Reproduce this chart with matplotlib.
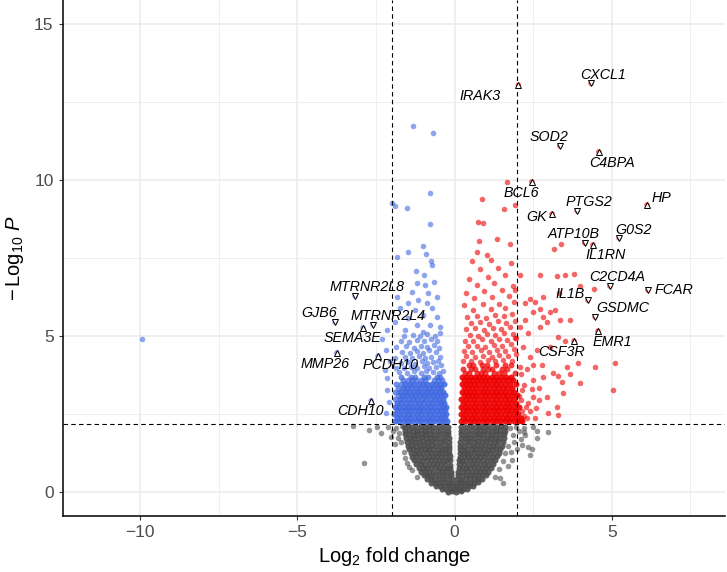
import numpy as np
import matplotlib
matplotlib.use('Agg')
import matplotlib.pyplot as plt

plt.rcParams['font.family'] = 'Liberation Sans'
plt.rcParams['mathtext.fontset'] = 'custom'
plt.rcParams['mathtext.rm'] = 'Liberation Sans'
plt.rcParams['mathtext.it'] = 'Liberation Sans:italic'

########################## data ##########################
# not significant (grey cloud), (log2FC, -log10 P)
gray_core = [
    (-0.2,0.02),(-0.07,0.03),(0.06,0.02),(0.19,0.04),
    (-0.4,0.1),(-0.27,0.11),(-0.14,0.09),(0.0,0.12),(0.13,0.1),(0.27,0.11),(0.41,0.1),
    (-0.58,0.2),(-0.45,0.21),(-0.32,0.19),(-0.19,0.22),(-0.06,0.2),(0.07,0.21),(0.2,0.19),(0.33,0.22),(0.46,0.2),(0.59,0.21),
    (-0.74,0.3),(-0.61,0.31),(-0.48,0.3),(-0.35,0.32),(-0.22,0.3),(-0.09,0.31),(0.09,0.3),(0.22,0.32),(0.35,0.3),(0.48,0.31),(0.61,0.3),(0.75,0.32),
    (-0.88,0.42),(-0.75,0.43),(-0.62,0.41),(-0.49,0.42),(-0.36,0.44),(-0.22,0.42),(-0.09,0.43),(0.09,0.42),(0.22,0.41),(0.36,0.43),(0.49,0.42),(0.62,0.44),(0.75,0.42),(0.88,0.43),
    (-0.98,0.54),(-0.86,0.55),(-0.74,0.53),(-0.62,0.54),(-0.49,0.56),(-0.36,0.54),(-0.23,0.55),(-0.11,0.54),(0.11,0.54),(0.23,0.53),(0.36,0.55),(0.49,0.54),(0.62,0.56),(0.74,0.54),(0.87,0.55),(0.99,0.54),
    (-1.06,0.66),(-0.93,0.67),(-0.8,0.65),(-0.67,0.66),(-0.54,0.68),(-0.41,0.66),(-0.27,0.67),(-0.12,0.66),(0.12,0.66),(0.27,0.65),(0.41,0.67),(0.54,0.66),(0.67,0.68),(0.8,0.66),(0.93,0.67),(1.07,0.66),
    (-1.14,0.78),(-1.01,0.79),(-0.88,0.77),(-0.75,0.78),(-0.62,0.8),(-0.49,0.78),(-0.37,0.79),(-0.25,0.78),(-0.13,0.77),(0.13,0.78),(0.25,0.79),(0.37,0.77),(0.49,0.78),(0.62,0.8),(0.75,0.78),(0.88,0.79),(1.01,0.77),(1.15,0.78),
    (-1.21,0.9),(-1.08,0.91),(-0.95,0.89),(-0.82,0.9),(-0.69,0.92),(-0.56,0.9),(-0.43,0.91),(-0.29,0.9),(-0.14,0.89),(0.14,0.9),(0.29,0.91),(0.43,0.89),(0.56,0.9),(0.69,0.92),(0.82,0.9),(0.95,0.91),(1.08,0.89),(1.22,0.9),
    (-1.28,1.02),(-1.15,1.03),(-1.02,1.01),(-0.89,1.02),(-0.76,1.04),(-0.63,1.02),(-0.5,1.03),(-0.37,1.01),(-0.25,1.02),(-0.15,1.03),(0.15,1.02),(0.25,1.01),(0.37,1.03),(0.5,1.02),(0.63,1.04),(0.76,1.02),(0.89,1.03),(1.02,1.01),(1.15,1.02),(1.29,1.03),
    (-1.34,1.14),(-1.21,1.15),(-1.08,1.13),(-0.95,1.14),(-0.82,1.16),(-0.69,1.14),(-0.56,1.15),(-0.43,1.13),(-0.3,1.14),(-0.16,1.15),(0.16,1.14),(0.3,1.13),(0.43,1.15),(0.56,1.14),(0.69,1.16),(0.82,1.14),(0.95,1.15),(1.08,1.13),(1.21,1.14),(1.35,1.15),
    (-1.4,1.26),(-1.27,1.27),(-1.14,1.25),(-1.01,1.26),(-0.88,1.28),(-0.75,1.26),(-0.62,1.27),(-0.5,1.25),(-0.39,1.26),(-0.28,1.27),(-0.17,1.26),(0.17,1.26),(0.28,1.25),(0.39,1.27),(0.5,1.26),(0.62,1.28),(0.75,1.26),(0.88,1.27),(1.01,1.25),(1.14,1.26),(1.27,1.27),(1.41,1.26),
    (-1.45,1.38),(-1.32,1.39),(-1.19,1.37),(-1.06,1.38),(-0.93,1.4),(-0.8,1.38),(-0.67,1.39),(-0.54,1.37),(-0.41,1.38),(-0.29,1.39),(-0.17,1.38),(0.17,1.38),(0.29,1.37),(0.41,1.39),(0.54,1.38),(0.67,1.4),(0.8,1.38),(0.93,1.39),(1.06,1.37),(1.19,1.38),(1.32,1.39),(1.46,1.38),
    (-1.49,1.5),(-1.36,1.51),(-1.23,1.49),(-1.1,1.5),(-0.97,1.52),(-0.84,1.5),(-0.71,1.51),(-0.58,1.49),(-0.45,1.5),(-0.31,1.51),(-0.18,1.5),(0.18,1.5),(0.31,1.49),(0.45,1.51),(0.58,1.5),(0.71,1.52),(0.84,1.5),(0.97,1.51),(1.1,1.49),(1.23,1.5),(1.36,1.51),(1.5,1.5),
    (-1.52,1.62),(-1.39,1.63),(-1.26,1.61),(-1.13,1.62),(-1.0,1.64),(-0.87,1.62),(-0.74,1.63),(-0.61,1.61),(-0.47,1.62),(-0.33,1.63),(-0.18,1.62),(0.18,1.62),(0.33,1.61),(0.47,1.63),(0.61,1.62),(0.74,1.64),(0.87,1.62),(1.0,1.63),(1.13,1.61),(1.26,1.62),(1.39,1.63),(1.53,1.62),
    (-1.55,1.74),(-1.42,1.75),(-1.29,1.73),(-1.16,1.74),(-1.03,1.76),(-0.9,1.74),(-0.77,1.75),(-0.63,1.73),(-0.49,1.74),(-0.34,1.75),(-0.19,1.74),(0.19,1.74),(0.34,1.73),(0.49,1.75),(0.63,1.74),(0.77,1.76),(0.9,1.74),(1.03,1.75),(1.16,1.73),(1.29,1.74),(1.42,1.75),(1.56,1.74),
    (-1.57,1.86),(-1.44,1.87),(-1.31,1.85),(-1.18,1.86),(-1.05,1.88),(-0.92,1.86),(-0.79,1.87),(-0.65,1.85),(-0.5,1.86),(-0.35,1.87),(-0.2,1.86),(0.2,1.86),(0.35,1.85),(0.5,1.87),(0.65,1.86),(0.79,1.88),(0.92,1.86),(1.05,1.87),(1.18,1.85),(1.31,1.86),(1.44,1.87),(1.58,1.86),
    (-1.59,1.98),(-1.46,1.99),(-1.33,1.97),(-1.2,1.98),(-1.07,2.0),(-0.94,1.98),(-0.81,1.99),(-0.67,1.97),(-0.52,1.98),(-0.37,1.99),(-0.21,1.98),(0.21,1.98),(0.37,1.97),(0.52,1.99),(0.67,1.98),(0.81,2.0),(0.94,1.98),(1.07,1.99),(1.2,1.97),(1.33,1.98),(1.46,1.99),(1.6,1.98),
    (-1.6,2.1),(-1.47,2.11),(-1.34,2.09),(-1.21,2.1),(-1.08,2.12),(-0.95,2.1),(-0.82,2.11),(-0.68,2.09),(-0.53,2.1),(-0.38,2.11),(-0.22,2.1),(0.22,2.1),(0.38,2.09),(0.53,2.11),(0.68,2.1),(0.82,2.12),(0.95,2.1),(1.08,2.11),(1.21,2.09),(1.34,2.1),(1.47,2.11),(1.62,2.1),
]
gray_edge = [
    (-2.87,0.93),(-2.33,1.91),(-3.24,2.12),(-2.71,2.0),(-2.45,2.08),(-2.1,2.1),(-1.95,1.95),(-1.85,2.05),
    (-1.8,1.75),(-1.75,1.9),(-1.7,1.6),(-1.62,1.3),(-1.52,0.95),(-1.35,0.7),(-1.2,0.5),(-1.68,2.14),
    (-1.9,1.55),(-2.02,1.78),(-1.58,1.1),(-1.44,0.82),
    (1.75,2.05),(1.85,1.85),(1.7,1.5),(1.62,1.25),(1.55,1.0),(1.42,0.75),(1.28,0.5),(1.95,2.1),
    (2.05,1.95),(2.2,2.05),(1.9,1.6),(2.1,1.7),(2.25,1.85),(2.5,2.1),(2.62,1.98),(1.8,1.3),
    (2.0,1.4),(1.7,0.85),(1.45,0.45),(1.55,0.29),(2.97,1.94),(2.41,1.2),(2.34,1.46),(2.2,1.94),
    (2.61,1.73),(2.13,1.51),(2.47,1.39),(1.82,1.05),
]

# significant, down (blue)
blue_core = [
    (-1.9,2.27),(-1.76,2.27),(-1.62,2.27),(-1.48,2.27),(-1.34,2.27),(-1.2,2.27),(-1.06,2.27),(-0.92,2.27),(-0.78,2.27),(-0.64,2.27),(-0.5,2.27),(-0.37,2.27),(-0.25,2.27),
    (-1.83,2.39),(-1.69,2.39),(-1.55,2.39),(-1.41,2.39),(-1.27,2.39),(-1.13,2.39),(-0.99,2.39),(-0.85,2.39),(-0.71,2.39),(-0.57,2.39),(-0.44,2.39),(-0.31,2.39),
    (-1.92,2.51),(-1.76,2.51),(-1.62,2.51),(-1.48,2.51),(-1.34,2.51),(-1.2,2.51),(-1.06,2.51),(-0.92,2.51),(-0.78,2.51),(-0.64,2.51),(-0.5,2.51),(-0.37,2.51),(-0.26,2.51),
    (-1.84,2.63),(-1.69,2.63),(-1.55,2.63),(-1.41,2.63),(-1.27,2.63),(-1.13,2.63),(-0.99,2.63),(-0.85,2.63),(-0.71,2.63),(-0.57,2.63),(-0.44,2.63),(-0.31,2.63),
    (-1.9,2.75),(-1.76,2.75),(-1.62,2.75),(-1.48,2.75),(-1.34,2.75),(-1.2,2.75),(-1.06,2.75),(-0.92,2.75),(-0.78,2.75),(-0.64,2.75),(-0.5,2.75),(-0.38,2.75),(-0.27,2.75),
    (-1.83,2.87),(-1.69,2.87),(-1.55,2.87),(-1.41,2.87),(-1.27,2.87),(-1.13,2.87),(-0.99,2.87),(-0.85,2.87),(-0.71,2.87),(-0.57,2.87),(-0.44,2.87),(-0.32,2.87),
    (-1.74,2.99),(-1.6,2.99),(-1.46,2.99),(-1.32,2.99),(-1.18,2.99),(-1.04,2.99),(-0.9,2.99),(-0.76,2.99),(-0.62,2.99),(-0.49,2.99),(-0.37,2.99),
    (-1.67,3.11),(-1.53,3.11),(-1.39,3.11),(-1.25,3.11),(-1.11,3.11),(-0.97,3.11),(-0.83,3.11),(-0.69,3.11),(-0.56,3.11),(-0.43,3.11),(-0.31,3.11),
    (-1.72,3.23),(-1.58,3.23),(-1.44,3.23),(-1.3,3.23),(-1.16,3.23),(-1.02,3.23),(-0.88,3.23),(-0.74,3.23),(-0.61,3.23),(-0.48,3.23),(-0.36,3.23),
    (-1.65,3.35),(-1.51,3.35),(-1.37,3.35),(-1.23,3.35),(-1.09,3.35),(-0.95,3.35),(-0.81,3.35),(-0.67,3.35),(-0.54,3.35),(-0.42,3.35),
    (-1.56,3.47),(-1.42,3.47),(-1.28,3.47),(-1.14,3.47),(-1.0,3.47),(-0.86,3.47),(-0.72,3.47),(-0.59,3.47),(-0.46,3.47),(-0.34,3.47),
]
blue_core_top = [
    (-1.63,3.59),(-1.49,3.59),(-1.21,3.59),(-1.07,3.59),(-0.93,3.59),(-0.65,3.59),(-0.52,3.59),(-0.4,3.59),
    (-1.7,3.71),(-1.4,3.71),(-1.26,3.71),(-0.98,3.71),(-0.84,3.71),(-0.57,3.71),(-0.45,3.71),
    (-1.88,2.99),(-1.81,3.11),(-1.9,3.23),(-1.8,3.35),(-1.86,3.47),(-1.71,3.47),(-1.35,3.59),
]
blue_upper = [
    (-1.75,3.85),(-1.5,3.83),(-1.3,3.88),(-1.08,3.84),(-0.9,3.9),(-0.7,3.86),(-0.5,3.82),(-0.38,3.9),
    (-1.86,4.0),(-1.62,3.98),(-1.4,4.02),(-1.18,3.99),(-0.98,4.05),(-0.8,4.0),(-0.6,4.02),(-0.44,4.08),
    (-1.7,4.15),(-1.48,4.18),(-1.25,4.12),(-1.05,4.2),(-0.86,4.15),(-0.67,4.19),(-0.52,4.22),
    (-1.9,4.3),(-1.58,4.33),(-1.35,4.3),(-1.12,4.36),(-0.93,4.31),(-0.74,4.35),(-0.46,4.33),
    (-1.67,4.5),(-1.43,4.46),(-1.2,4.52),(-1.0,4.48),(-0.8,4.55),(-0.6,4.5),
    (-1.85,4.65),(-1.55,4.68),(-1.28,4.64),(-1.08,4.7),(-0.88,4.66),(-0.66,4.72),(-0.48,4.62),
    (-1.7,4.85),(-1.45,4.82),(-1.2,4.88),(-0.98,4.84),(-0.75,4.9),(-0.56,4.86),
    (-1.6,5.02),(-1.32,5.05),(-1.1,5.0),(-0.86,5.08),(-0.63,5.02),(-0.45,5.1),
    (-1.57,5.2),(-0.99,5.15),(-1.2,5.36),(-0.77,5.36),(-0.46,5.31),(-1.89,5.47),(-1.47,5.58),
    (-0.99,5.68),(-0.57,5.63),(-1.73,5.9),(-1.26,5.84),(-0.73,5.9),(-1.47,6.06),(-0.88,6.06),
    (-1.15,6.16),(-1.84,6.27),(-0.57,6.27),(-0.83,6.38),(-1.36,6.43),(-0.94,6.63),(-1.2,6.7),
    (-0.65,6.75),(-0.97,6.96),(-1.22,7.1),(-0.73,7.29),(-0.75,7.4),(-1.82,7.53),(-0.92,7.64),
    (-1.47,7.69),(-1.01,7.9),(-0.77,8.6),(-1.52,9.12),(-1.9,9.18),(-1.98,9.26),(-0.79,9.58),
    (-0.69,11.53),(-1.31,11.74),(-9.95,4.9),
    (-2.16,5.2),(-2.31,4.9),(-2.18,4.56),(-2.21,3.92),(-2.14,3.65),(-2.16,3.28),(-2.18,2.54),
    (-2.08,2.9),(-2.05,4.2),
]

# significant, up (red)
red_core = [
    (0.2,2.27),(0.34,2.27),(0.48,2.27),(0.62,2.27),(0.76,2.27),(0.9,2.27),(1.04,2.27),(1.18,2.27),(1.32,2.27),(1.46,2.27),(1.6,2.27),(1.74,2.27),(1.88,2.27),(2.02,2.27),(2.16,2.27),
    (0.27,2.39),(0.41,2.39),(0.55,2.39),(0.69,2.39),(0.83,2.39),(0.97,2.39),(1.11,2.39),(1.25,2.39),(1.39,2.39),(1.53,2.39),(1.67,2.39),(1.81,2.39),(1.95,2.39),(2.1,2.39),
    (0.21,2.51),(0.34,2.51),(0.48,2.51),(0.62,2.51),(0.76,2.51),(0.9,2.51),(1.04,2.51),(1.18,2.51),(1.32,2.51),(1.46,2.51),(1.6,2.51),(1.74,2.51),(1.88,2.51),(2.03,2.51),
    (0.27,2.63),(0.41,2.63),(0.55,2.63),(0.69,2.63),(0.83,2.63),(0.97,2.63),(1.11,2.63),(1.25,2.63),(1.39,2.63),(1.53,2.63),(1.67,2.63),(1.81,2.63),(1.96,2.63),
    (0.22,2.75),(0.35,2.75),(0.48,2.75),(0.62,2.75),(0.76,2.75),(0.9,2.75),(1.04,2.75),(1.18,2.75),(1.32,2.75),(1.46,2.75),(1.6,2.75),(1.74,2.75),(1.88,2.75),(2.05,2.75),
    (0.28,2.87),(0.41,2.87),(0.55,2.87),(0.69,2.87),(0.83,2.87),(0.97,2.87),(1.11,2.87),(1.25,2.87),(1.39,2.87),(1.53,2.87),(1.67,2.87),(1.81,2.87),(1.95,2.87),
    (0.22,2.99),(0.35,2.99),(0.48,2.99),(0.62,2.99),(0.76,2.99),(0.9,2.99),(1.04,2.99),(1.18,2.99),(1.32,2.99),(1.46,2.99),(1.6,2.99),(1.74,2.99),(1.9,2.99),
    (0.29,3.11),(0.42,3.11),(0.55,3.11),(0.69,3.11),(0.83,3.11),(0.97,3.11),(1.11,3.11),(1.25,3.11),(1.39,3.11),(1.53,3.11),(1.67,3.11),(1.82,3.11),(1.98,3.11),
    (0.23,3.23),(0.36,3.23),(0.49,3.23),(0.62,3.23),(0.76,3.23),(0.9,3.23),(1.04,3.23),(1.18,3.23),(1.32,3.23),(1.46,3.23),(1.6,3.23),(1.75,3.23),(1.9,3.23),
    (0.3,3.35),(0.43,3.35),(0.56,3.35),(0.69,3.35),(0.83,3.35),(0.97,3.35),(1.11,3.35),(1.25,3.35),(1.39,3.35),(1.53,3.35),(1.68,3.35),(1.84,3.35),
    (0.24,3.47),(0.37,3.47),(0.5,3.47),(0.63,3.47),(0.76,3.47),(0.9,3.47),(1.04,3.47),(1.18,3.47),(1.32,3.47),(1.46,3.47),(1.61,3.47),(1.77,3.47),(1.95,3.47),
    (0.31,3.59),(0.44,3.59),(0.57,3.59),(0.7,3.59),(0.83,3.59),(0.97,3.59),(1.11,3.59),(1.25,3.59),(1.39,3.59),(1.54,3.59),(1.7,3.59),(1.86,3.59),
    (0.25,3.71),(0.38,3.71),(0.51,3.71),(0.64,3.71),(0.77,3.71),(0.9,3.71),(1.04,3.71),(1.18,3.71),(1.32,3.71),(1.47,3.71),(1.63,3.71),(1.8,3.71),
]
red_core_top = [
    (0.32,3.83),(0.45,3.83),(0.71,3.83),(0.84,3.83),(0.98,3.83),(1.26,3.83),(1.4,3.83),(1.56,3.83),(1.92,3.83),
    (0.26,3.95),(0.52,3.95),(0.65,3.95),(0.92,3.95),(1.06,3.95),(1.2,3.95),(1.5,3.95),(1.66,3.95),
    (0.46,4.07),(0.6,4.07),(0.88,4.07),(1.02,4.07),(1.31,4.07),(1.6,4.07),(1.78,4.07),
]
red_upper = [
    (0.28,4.2),(0.52,4.22),(0.8,4.18),(1.05,4.25),(1.3,4.2),(1.55,4.24),(1.82,4.2),
    (0.38,4.36),(0.65,4.34),(0.92,4.38),(1.18,4.35),(1.42,4.4),(1.7,4.36),(1.95,4.42),
    (0.3,4.52),(0.56,4.5),(0.84,4.55),(1.1,4.5),(1.36,4.56),(1.62,4.52),(1.88,4.58),
    (0.42,4.68),(0.7,4.7),(0.98,4.66),(1.25,4.72),(1.5,4.68),(1.78,4.74),
    (0.33,4.86),(0.6,4.84),(0.88,4.9),(1.15,4.86),(1.42,4.92),(1.68,4.88),(1.95,4.95),
    (0.48,5.04),(0.76,5.02),(1.04,5.08),(1.3,5.04),(1.58,5.1),(1.85,5.06),
    (0.36,5.22),(0.66,5.26),(0.95,5.2),(1.22,5.28),(1.48,5.24),(1.75,5.3),
    (0.52,5.42),(0.82,5.45),(1.1,5.4),(1.38,5.48),(1.65,5.44),(1.92,5.5),
    (0.4,5.62),(0.7,5.66),(1.0,5.6),(1.28,5.68),(1.56,5.64),(1.82,5.7),
    (0.58,5.85),(1.15,5.88),(1.62,5.9),(0.3,6.0),(0.9,6.05),(1.4,6.02),(1.9,6.1),
    (0.62,6.22),(1.2,6.25),(1.72,6.3),(0.35,6.4),(0.95,6.45),(1.5,6.5),(0.7,6.65),
    (1.25,6.7),(1.85,6.62),(0.45,6.85),(1.05,6.9),(1.6,6.95),(0.8,7.15),(1.38,7.2),
    (0.55,7.4),(1.15,7.45),(1.78,7.35),(1.02,7.6),(0.72,7.71),(1.75,7.97),(0.77,8.05),
    (1.35,8.11),(0.76,8.65),(0.9,8.64),(1.56,9.09),(1.92,9.21),(0.88,9.39),(1.66,9.94),
]
red_right = [
    (2.72,6.97),(3.25,6.93),(3.51,6.97),(3.8,7.0),(3.99,6.61),(4.42,6.51),(3.33,6.38),
    (2.82,6.27),(2.08,6.97),(1.92,6.49),(2.4,6.19),(2.56,6.11),(2.24,6.06),(2.51,5.79),
    (2.72,5.87),(3.04,5.79),(3.2,5.84),(3.67,5.52),(3.35,5.52),(2.82,5.63),(2.93,5.47),
    (2.24,5.52),(2.72,5.31),(2.08,5.31),(2.35,5.1),(1.92,4.94),(3.3,4.97),(3.51,4.86),
    (3.04,4.67),(2.61,4.56),(2.4,4.35),(2.77,4.08),(2.51,4.08),(3.57,4.03),(3.94,4.14),
    (4.47,4.01),(5.1,4.14),(3.14,3.81),(2.82,3.71),(3.3,3.73),(3.67,3.79),(3.41,3.55),
    (3.99,3.49),(3.46,3.17),(2.93,3.07),(2.51,3.07),(2.35,2.85),(3.25,2.75),(2.98,2.53),
    (3.3,2.48),(2.56,2.37),(2.3,2.37),(5.05,3.28),(2.67,3.33),(2.14,3.28),(2.08,4.03),
    (2.19,4.67),(2.1,2.3),(2.22,2.45),(2.15,2.6),(2.28,2.75),(2.12,2.95),(2.4,2.6),
    (2.05,3.1),(2.2,3.45),(2.1,3.8),(2.3,3.95),(2.45,3.3),(2.6,2.7),(2.7,2.95),(2.5,3.6),
    (3.39,7.95),(3.16,7.8),
]

# labelled genes: point position, label position, arrow-head direction
genes = ['IRAK3', 'CXCL1', 'SOD2', 'C4BPA', 'BCL6', 'PTGS2', 'HP', 'GK', 'ATP10B',
         'G0S2', 'IL1RN', 'C2CD4A', 'FCAR', 'IL1B', 'GSDMC', 'EMR1', 'CSF3R',
         'MTRNR2L8', 'GJB6', 'MTRNR2L4', 'SEMA3E', 'MMP26', 'PCDH10', 'CDH10']
gene_fc = [2.03, 4.34, 3.35, 4.59, 2.46, 3.9, 6.12, 3.1, 4.14,
           5.23, 4.4, 4.94, 6.15, 4.24, 4.47, 4.56, 3.8,
           -3.16, -3.8, -2.59, -2.91, -3.74, -2.43, -2.65]
gene_p = [13.05, 13.11, 11.1, 10.91, 9.95, 9.02, 9.21, 8.92, 7.99,
          8.15, 7.93, 6.61, 6.48, 6.16, 5.62, 5.17, 4.85,
          6.29, 5.46, 5.37, 5.27, 4.47, 4.37, 2.93]
lab_x = [0.81, 4.72, 3.0, 5.0, 2.11, 4.28, 6.58, 2.62, 3.8,
         5.68, 4.79, 5.17, 6.98, 3.67, 5.36, 5.03, 3.39,
         -2.78, -4.31, -2.11, -3.26, -4.12, -2.02, -3.0]
lab_y = [12.7, 13.37, 11.39, 10.55, 9.59, 9.3, 9.43, 8.83, 8.28,
         8.41, 7.6, 6.9, 6.5, 6.35, 5.91, 4.82, 4.5,
         6.58, 5.75, 5.65, 4.95, 4.11, 4.08, 2.61]
arrow_dir = ['^', 'v', 'v', '^', '^', 'v', '^', '^', 'v',
             'v', '^', 'v', 'v', 'v', 'v', '^', '^',
             'v', 'v', 'v', '^', '^', '^', '^']

fc_cut = 2.0
p_cut = 2.19

################################# figure #######################################
fig = plt.figure(figsize=(7.27, 5.72), dpi=100)
ax = fig.add_axes([63.3/727, (572-515.7)/572, (725-63.3)/727, 515.7/572])

def dots(pts, col, alpha, size=16):
    a = np.array(pts)
    ax.scatter(a[:, 0], a[:, 1], s=size, c=col, alpha=alpha, lw=0, zorder=2)

# dense clouds are solid in the original, so they get a stronger alpha
dots(gray_core, '#4D4D4D', 0.9, 19)
dots(gray_edge, '#4D4D4D', 0.6)
dots(blue_core, '#4169E1', 0.9, 19)
dots(blue_core_top, '#4169E1', 0.75, 18)
dots(blue_upper, '#4169E1', 0.6)
dots(red_core, '#EE0000', 0.9, 19)
dots(red_core_top, '#EE0000', 0.75, 18)
dots(red_upper + red_right, '#EE0000', 0.6)

gfc = np.array(gene_fc)
gp = np.array(gene_p)
gcol = np.where(gfc > 0, '#EE0000', '#4169E1')
ax.scatter(gfc, gp, s=16, c=gcol, alpha=0.6, lw=0, zorder=2)

ax.axvline(-fc_cut, color='black', lw=0.8, ls=(0, (4, 3)), zorder=4)
ax.axvline(fc_cut, color='black', lw=0.8, ls=(0, (4, 3)), zorder=4)
ax.axhline(p_cut, color='black', lw=0.8, ls=(0, (4, 3)), zorder=4)

for i in range(len(genes)):
    ax.plot(gfc[i], gp[i], marker=arrow_dir[i], ms=4.5, mfc='white', mec='black',
            mew=0.7, ls='none', zorder=5)
    ax.text(lab_x[i], lab_y[i], genes[i], fontsize=10.3, style='italic',
            ha='center', va='center', zorder=6)

ax.set_xlim(-12.44, 8.6)
ax.set_ylim(-0.75, 15.78)
ax.set_xticks([-10, -5, 0, 5])
ax.set_xticks([-7.5, -2.5, 2.5, 7.5], minor=True)
ax.set_yticks([0, 5, 10, 15])
ax.set_yticks([2.5, 7.5, 12.5], minor=True)
ax.grid(which='major', color='#EBEBEB', lw=1.1, zorder=0)
ax.grid(which='minor', color='#EBEBEB', lw=0.55, zorder=0)
ax.set_axisbelow(True)
ax.tick_params(which='major', length=3, width=0.8, color='#333333',
               labelsize=12.5, labelcolor='#4D4D4D', pad=4)
ax.tick_params(which='minor', length=0)
for s in ['top', 'right']:
    ax.spines[s].set_visible(False)
for s in ['left', 'bottom']:
    ax.spines[s].set_linewidth(1.1)
    ax.spines[s].set_color('black')

ax.set_xlabel(r'$\mathrm{Log}_{2}$ fold change', fontsize=14.5, labelpad=3)
ax.set_ylabel(r'$-\,\mathrm{Log}_{10}\ \mathit{P}$', fontsize=14.5, labelpad=6)

plt.savefig('out.png', dpi=100)
